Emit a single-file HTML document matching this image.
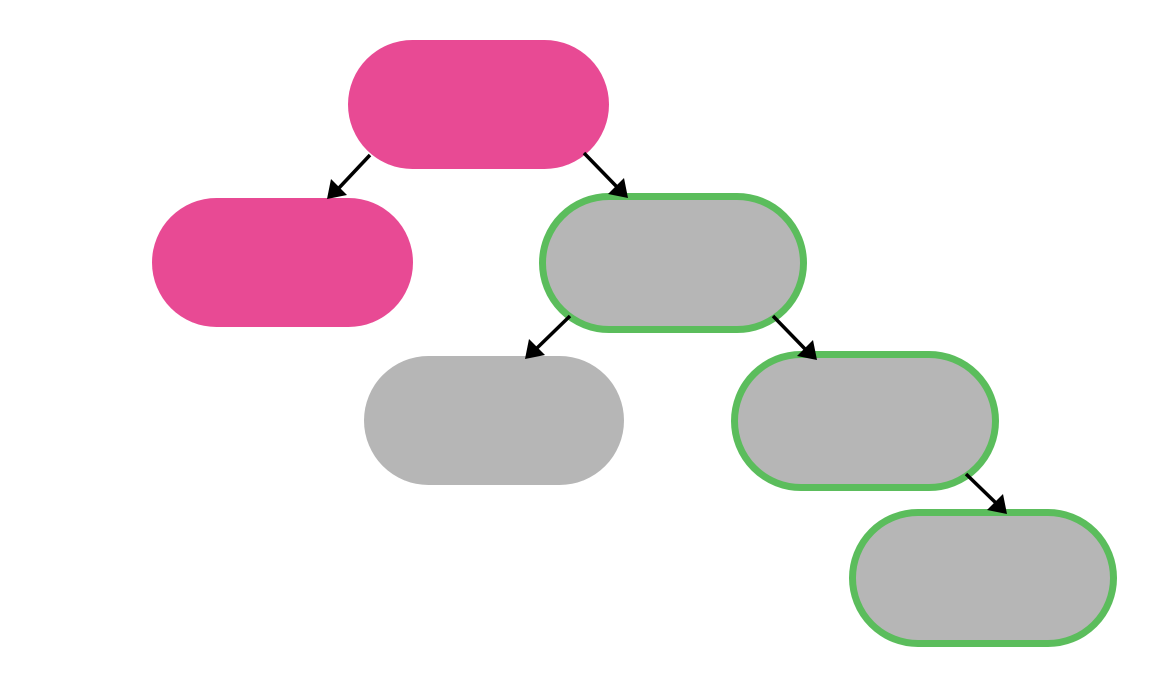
<!DOCTYPE html>
<html><head><style>html,body{margin:0;padding:0;background:#fff;}svg{display:block}</style></head>
<body>
<svg width="1153" height="674" viewBox="0 0 1153 674" xmlns="http://www.w3.org/2000/svg">
<rect x="348" y="40" width="261" height="129" rx="64.5" fill="#e84a94"/>
<rect x="152" y="198" width="261" height="129" rx="64.5" fill="#e84a94"/>
<rect x="364" y="356" width="260" height="129" rx="64.5" fill="#b6b6b6"/>
<rect x="542.5" y="196.5" width="261" height="133" rx="66.5" fill="#b6b6b6" stroke="#5bbd5c" stroke-width="7"/>
<rect x="734.5" y="354.5" width="261" height="133" rx="66.5" fill="#b6b6b6" stroke="#5bbd5c" stroke-width="7"/>
<rect x="852.5" y="512.5" width="261" height="131" rx="65.5" fill="#b6b6b6" stroke="#5bbd5c" stroke-width="7"/>
<g stroke="#000" stroke-width="3.5" fill="none">
<line x1="370" y1="155" x2="338" y2="189"/>
<line x1="584" y1="153" x2="617" y2="187"/>
<line x1="570" y1="316" x2="536" y2="349"/>
<line x1="773" y1="316" x2="806" y2="350"/>
<line x1="966" y1="474" x2="997" y2="504"/>
</g>
<g fill="#000">
<polygon points="327,199 331,179 347,195"/>
<polygon points="628,198 608,194 624,178"/>
<polygon points="525,359 529,339 545,355"/>
<polygon points="817,360 797,356 813,340"/>
<polygon points="1007,514 987,510 1003,494"/>
</g>
</svg>
</body></html>
